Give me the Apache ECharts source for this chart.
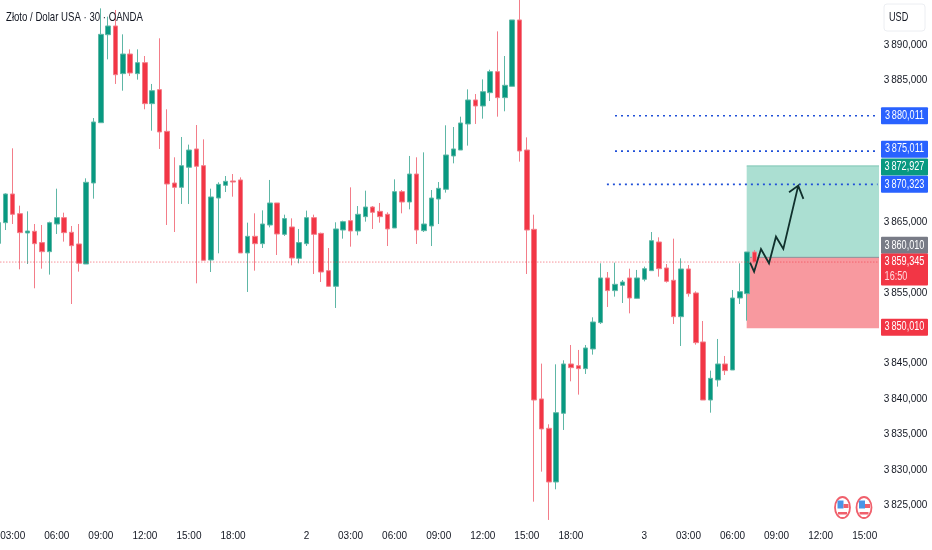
<!DOCTYPE html>
<html><head><meta charset="utf-8">
<style>html,body{margin:0;padding:0;background:#fff}#c{width:932px;height:550px}</style>
<script src="https://cdn.jsdelivr.net/npm/echarts@6/dist/echarts.min.js"></script>
</head><body><div id="c"></div>
<script>
const candleOpen=[3861.99,3864.91,3868.96,3866.18,3863.45,3863.69,3862.09,3860.81,3864.72,3865.62,3863.55,3861.90,3859.07,3870.51,3879.03,3891.46,3892.69,3885.96,3888.73,3885.96,3887.51,3881.72,3883.70,3877.81,3870.51,3869.90,3872.73,3875.32,3872.96,3859.64,3868.39,3870.18,3870.80,3870.94,3860.63,3862.98,3861.94,3864.58,3867.69,3863.26,3864.30,3859.87,3861.94,3865.62,3863.40,3858.13,3855.92,3863.87,3865.19,3863.73,3865.76,3867.12,3866.51,3866.09,3864.16,3869.29,3867.83,3871.78,3863.78,3864.44,3868.25,3869.62,3874.33,3875.17,3878.85,3882.24,3881.39,3883.27,3886.24,3882.57,3884.17,3893.54,3875.17,3863.97,3840.01,3835.86,3828.28,3837.98,3844.95,3844.71,3844.29,3847.07,3850.79,3857.10,3855.31,3856.06,3857.10,3854.22,3856.91,3858.13,3862.18,3858.51,3856.77,3851.63,3858.37,3854.98,3848.06,3839.86,3842.69,3844.95,3844.10,3854.27,3854.88,3860.77];
const candleClose=[3864.91,3868.96,3866.09,3863.50,3863.73,3861.94,3860.81,3864.91,3865.62,3863.50,3861.66,3859.17,3870.61,3879.13,3891.51,3892.69,3885.81,3888.73,3886.05,3887.51,3881.72,3883.55,3877.72,3870.37,3869.90,3872.96,3875.17,3872.87,3859.59,3868.54,3870.32,3870.75,3870.65,3860.63,3862.98,3861.94,3864.72,3867.69,3863.31,3865.48,3859.92,3862.09,3865.62,3863.26,3857.94,3855.92,3864.02,3865.05,3863.73,3866.09,3867.12,3866.37,3865.76,3864.02,3869.29,3867.83,3871.78,3863.87,3864.72,3868.39,3869.76,3874.47,3875.32,3878.99,3882.24,3881.39,3883.41,3886.24,3882.57,3884.31,3893.54,3875.03,3863.87,3839.86,3835.77,3828.28,3838.07,3844.95,3844.43,3844.29,3847.21,3850.88,3857.10,3855.31,3856.20,3856.53,3854.27,3857.10,3858.41,3862.37,3858.41,3856.62,3851.63,3858.37,3854.88,3847.96,3839.86,3842.92,3844.95,3844.01,3854.27,3855.16,3860.77,3859.345];
const candleLow=[3860.20,3863.87,3864.72,3858.32,3859.07,3855.64,3858.41,3857.57,3863.31,3862.23,3853.42,3857.99,3859.07,3868.30,3879.03,3887.98,3884.50,3883.55,3885.63,3885.11,3880.92,3877.90,3875.32,3864.58,3863.59,3867.55,3867.55,3856.34,3859.59,3857.94,3860.58,3869.24,3868.58,3860.63,3855.12,3858.13,3861.33,3864.25,3860.34,3863.03,3858.88,3859.17,3861.61,3857.66,3856.53,3855.87,3852.86,3862.65,3861.52,3863.12,3865.05,3864.02,3864.91,3861.61,3864.16,3866.23,3866.79,3861.90,3863.59,3861.61,3864.72,3869.15,3873.29,3875.17,3875.79,3878.85,3879.60,3882.09,3879.88,3880.64,3884.17,3873.53,3857.66,3825.50,3829.74,3822.92,3827.25,3835.63,3842.50,3840.62,3843.54,3846.27,3850.60,3853.00,3854.46,3853.56,3852.10,3854.18,3856.62,3858.13,3857.28,3856.44,3850.60,3847.49,3854.46,3847.68,3839.86,3838.07,3841.75,3843.39,3844.10,3853.42,3851.07,3859.17];
const candleHigh=[3865.05,3869.05,3875.41,3867.31,3866.51,3864.72,3864.58,3865.05,3869.71,3866.32,3864.44,3864.72,3871.17,3879.69,3895.18,3894.01,3894.95,3891.51,3889.39,3889.39,3888.45,3884.50,3890.95,3880.92,3874.14,3877.01,3875.93,3878.70,3876.68,3869.71,3870.61,3871.50,3871.78,3871.31,3864.91,3866.23,3866.65,3870.94,3867.69,3866.04,3865.52,3864.02,3866.61,3866.04,3863.50,3861.33,3864.96,3865.19,3869.90,3867.26,3869.43,3867.26,3867.69,3866.37,3871.03,3869.52,3874.33,3874.14,3874.84,3869.52,3870.65,3878.66,3878.42,3879.88,3883.74,3883.08,3885.15,3886.52,3891.93,3888.45,3893.54,3897.50,3876.96,3866.04,3845.00,3836.43,3844.90,3845.47,3847.63,3846.93,3847.63,3851.54,3859.17,3857.94,3859.26,3856.81,3858.41,3858.23,3858.70,3863.59,3862.84,3859.07,3862.65,3859.87,3858.93,3855.21,3851.02,3844.01,3848.48,3846.08,3855.40,3859.17,3860.77,3861.05];

const tickPositions=[2,8,14,20,26,32,42,48,54,60,66,72,78,88,94,100,106,112,118];
const tickLabels=['03:00','06:00','09:00','12:00','15:00','18:00','2','03:00','06:00','09:00','12:00','15:00','18:00','3','03:00','06:00','09:00','12:00','15:00'];
const priceTicks=[3890,3885,3865,3855,3845,3840,3835,3830,3825];

const lastPrice=3859.345, targetPrice=3872.927, entryPrice=3860.010, stopPrice=3850.010;
const levelPrices=[3880.011,3875.011,3870.323];
const levelStartBars=[84,84,82.9];
const boxStartBar=101.93, boxEndBar=119.95;

const arrowBars=[102.39,102.94,103.88,104.97,105.92,106.92,108.95,107.7,108.95,109.65];
const arrowPrices=[3859.26,3857.99,3861.19,3859.17,3862.93,3861.19,3870.14,3869.20,3870.14,3868.26];

const tagTexts=['3 880,011','3 875,011','3 872,927','3 870,323','3 860,010','3 859,345','3 850,010'];
const tagPrices=[3880.011,3875.011,3872.927,3870.323,3860.010,3859.345,3850.010];
const tagFills=['#2962ff','#2962ff','#089981','#2962ff','#787b86','#f23645','#f23645'];
const tagShifts=[0,-2,1,0,-12,0,-1];
const countdown='16:50';

const BAR=7.345, BARS=121, FONT='"Liberation Sans",sans-serif';
const GREEN='#089981', RED='#f23645', SQUEEZE=0.76;
const fmt=v=>{const s=v.toFixed(3).replace('.',',');return s[0]+'\u2009'+s.slice(1);};
const labelAt=new Map(tickPositions.map((p,i)=>[p,tickLabels[i]]));
const categories=Array.from({length:BARS},(_,i)=>String(i));
const ohlc=candleOpen.map((o,i)=>[o,candleClose[i],candleLow[i],candleHigh[i]]);

const overlay=(name,data,extra)=>Object.assign({type:'line',name,xAxisIndex:1,yAxisIndex:0,data,symbol:'none',silent:true,animation:false,z:4},extra);

const option={
  animation:false,backgroundColor:'#ffffff',
  grid:{left:-5.67,top:0,width:BAR*BARS,height:521,containLabel:false,outerBoundsMode:'none'},
  xAxis:[
    {type:'category',data:categories,boundaryGap:true,axisLine:{show:false},axisTick:{show:false},splitLine:{show:false},
     axisLabel:{interval:(i)=>labelAt.has(i),formatter:(v,i)=>labelAt.get(+v)||'',margin:10,color:'#131722',fontFamily:FONT,fontSize:10,hideOverlap:false}},
    {type:'value',min:-0.5,max:BARS-0.5,show:false}
  ],
  yAxis:{type:'value',position:'right',min:3822.77,max:3896.36,scale:true,axisLine:{show:false},axisTick:{show:false},splitLine:{show:false},
    axisLabel:{customValues:priceTicks,formatter:v=>fmt(v),margin:22.5,align:'center',color:'#131722',fontFamily:FONT,fontSize:10}},
  series:[
    overlay('risk',[[boxStartBar,entryPrice],[boxEndBar,entryPrice]],{z:1,lineStyle:{color:'#8c8f98',width:1},
      markArea:{silent:true,z:1,data:[
        [{xAxis:boxStartBar,yAxis:targetPrice,itemStyle:{color:'#abdfd2'}},{xAxis:boxEndBar,yAxis:entryPrice}],
        [{xAxis:boxStartBar,yAxis:entryPrice,itemStyle:{color:'#f8999f'}},{xAxis:boxEndBar,yAxis:stopPrice}]
      ]}}),
    overlay('target',[[boxStartBar,targetPrice],[boxEndBar,targetPrice]],{z:1,lineStyle:{color:'#7cc5b3',width:1}}),
    {type:'candlestick',name:'XAU',data:ohlc,xAxisIndex:0,yAxisIndex:0,barWidth:5,z:2,animation:false,silent:true,
     itemStyle:{color:GREEN,color0:RED,borderColor:'#5eb7a6',borderColor0:'#f37d89',borderWidth:1}},
    overlay('last',[[-0.5,lastPrice],[boxEndBar,lastPrice]],{z:3,lineStyle:{color:RED,width:1,type:[1,2],opacity:.8}}),
    ...levelPrices.map((p,i)=>overlay('level'+i,[[levelStartBars[i],p],[boxEndBar-0.2,p]],{lineStyle:{color:'#2050d8',width:1.6,type:[2,4]}})),
    overlay('arrow',arrowBars.map((b,i)=>[b,arrowPrices[i]]),{z:5,lineStyle:{color:'#10302c',width:1.8,join:'miter'}}),
    {type:'custom',name:'tags',xAxisIndex:1,yAxisIndex:0,silent:true,z:6,clip:false,animation:false,
     data:tagPrices.map((p,i)=>[BARS-1,p,i]),
     renderItem(params,api){
       const i=api.value(2), pt=api.coord([BARS-1,api.value(1)]);
       const big=tagTexts[i]==='3 859,345';
       const x=881,w=47,h=big?32:17;
       const cy=pt[1]+tagShifts[i];
       const top=big?cy-8.5:cy-h/2;
       const kids=[
         {type:'rect',shape:{x,y:top,width:w,height:h,r:1},style:{fill:tagFills[i]}},
         {type:'text',x:x+w/2,y:top+8.5,scaleX:SQUEEZE,style:{x:0,y:0,text:tagTexts[i].replace(' ','\u2009'),fill:'#fff',font:'12px '+FONT,align:'center',verticalAlign:'middle'}}
       ];
       if(big) kids.push({type:'text',x:x+15,y:top+23.5,scaleX:SQUEEZE,style:{x:0,y:0,text:countdown,fill:'#ffd9dd',font:'12px '+FONT,align:'center',verticalAlign:'middle'}});
       return {type:'group',children:kids};
     }}
  ],
  graphic:[
    {type:'text',z:20,x:6,y:17,scaleX:0.74,style:{x:0,y:0,text:'Złoto / Dolar USA · 30 · OANDA',fill:'#131722',font:'13px '+FONT,verticalAlign:'middle'}},
    {type:'rect',z:10,shape:{x:884,y:4,width:41,height:27,r:3},style:{fill:'#fff',stroke:'#eceef2',lineWidth:1}},
    {type:'text',z:11,x:889,y:17.5,scaleX:SQUEEZE,style:{x:0,y:0,text:'USD',fill:'#131722',font:'12px '+FONT,verticalAlign:'middle'}},
    ...[842.5,864].map(cx=>({type:'group',z:11,children:[
      {type:'ellipse',shape:{cx,cy:507.5,rx:7.5,ry:10.5},style:{fill:'#fff',stroke:'#f0606c',lineWidth:1.8}},
      {type:'rect',shape:{x:cx-5,y:500.5,width:6,height:8},style:{fill:'#4a95e6'}},
      {type:'rect',shape:{x:cx+1,y:504,width:5,height:4},style:{fill:'#f0606c'}},
      {type:'rect',shape:{x:cx-4.5,y:512,width:9,height:2.5},style:{fill:'#f0606c'}}
    ]}))
  ]
};
const chart=echarts.init(document.getElementById('c'),null,{renderer:'canvas',width:932,height:550});
chart.setOption(option);
</script></body></html>
